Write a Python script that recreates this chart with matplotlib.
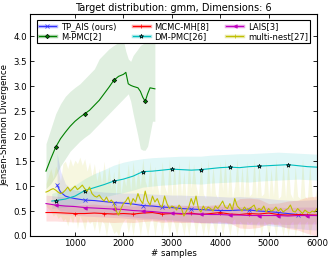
import numpy as np
import matplotlib.pyplot as plt
from matplotlib.lines import Line2D

# --- data ---
tp_x = [630, 700, 800, 900, 1000, 1200, 1400, 1600, 1800, 2000, 2200, 2400, 2600, 2800, 3000,
        3200, 3400, 3600, 3800, 4000, 4200, 4400, 4600, 4800, 5000, 5200, 5400, 5600, 5800, 6000]
tp_mean = [1.02, 0.88, 0.80, 0.77, 0.75, 0.72, 0.71, 0.69, 0.67, 0.66, 0.64, 0.61, 0.60, 0.58, 0.57,
           0.55, 0.54, 0.53, 0.52, 0.51, 0.51, 0.52, 0.52, 0.50, 0.49, 0.47, 0.45, 0.43, 0.42, 0.41]
tp_hi = [1.65, 1.30, 1.05, 0.95, 0.92, 0.90, 0.90, 0.88, 0.87, 0.86, 0.86, 0.85, 0.84, 0.83, 0.82,
         0.82, 0.81, 0.81, 0.80, 0.79, 0.78, 0.79, 0.78, 0.77, 0.75, 0.73, 0.72, 0.71, 0.72, 0.73]
tp_lo = [0.55, 0.50, 0.50, 0.48, 0.48, 0.46, 0.46, 0.44, 0.42, 0.40, 0.38, 0.36, 0.35, 0.33, 0.32,
         0.30, 0.29, 0.27, 0.26, 0.25, 0.24, 0.24, 0.23, 0.22, 0.21, 0.19, 0.17, 0.15, 0.13, 0.12]

mh_x = np.arange(400, 6001, 200)
mh_mean = [0.47, 0.47, 0.46, 0.45, 0.45, 0.46, 0.45, 0.44, 0.45, 0.44, 0.46, 0.47, 0.44, 0.45, 0.44,
           0.46, 0.43, 0.45, 0.47, 0.44, 0.43, 0.45, 0.44, 0.46, 0.43, 0.42, 0.43, 0.42, 0.42]
mh_hi = [0.65, 0.64, 0.63, 0.62, 0.63, 0.64, 0.62, 0.61, 0.62, 0.60, 0.62, 0.63, 0.60, 0.61, 0.60,
         0.62, 0.60, 0.62, 0.64, 0.62, 0.75, 0.76, 0.74, 0.65, 0.66, 0.70, 0.72, 0.78, 0.80]
mh_lo = [0.30, 0.30, 0.29, 0.28, 0.28, 0.29, 0.28, 0.27, 0.28, 0.27, 0.29, 0.30, 0.27, 0.28, 0.27,
         0.28, 0.26, 0.27, 0.28, 0.26, 0.16, 0.15, 0.17, 0.25, 0.22, 0.15, 0.12, 0.05, 0.00]

lais_x = np.arange(400, 6001, 200)
lais_mean = [0.65, 0.62, 0.60, 0.59, 0.57, 0.56, 0.55, 0.54, 0.53, 0.51, 0.50, 0.49, 0.47, 0.46, 0.45,
             0.44, 0.44, 0.43, 0.43, 0.42, 0.42, 0.41, 0.41, 0.41, 0.41, 0.40, 0.41, 0.41, 0.41]
lais_hi = [0.82, 0.80, 0.78, 0.76, 0.74, 0.73, 0.72, 0.71, 0.70, 0.68, 0.67, 0.66, 0.64, 0.63, 0.62,
           0.61, 0.61, 0.60, 0.60, 0.59, 0.59, 0.58, 0.58, 0.58, 0.58, 0.57, 0.58, 0.58, 0.58]
lais_lo = [0.48, 0.45, 0.43, 0.42, 0.40, 0.39, 0.38, 0.37, 0.36, 0.34, 0.33, 0.32, 0.30, 0.29, 0.28,
           0.27, 0.27, 0.26, 0.26, 0.25, 0.25, 0.24, 0.24, 0.24, 0.24, 0.23, 0.24, 0.24, 0.24]

mpmc_x = [400, 500, 600, 700, 800, 900, 1000, 1100, 1200, 1300, 1400, 1500, 1600, 1700, 1800,
          1900, 2000, 2050, 2100, 2150, 2200, 2300, 2350, 2400, 2450, 2500, 2550, 2600, 2650]
mpmc_mean = [1.30, 1.55, 1.78, 1.95, 2.08, 2.20, 2.30, 2.38, 2.45, 2.52, 2.62, 2.72, 2.85, 2.98, 3.12,
             3.20, 3.24, 3.28, 3.05, 3.02, 3.00, 2.97, 2.90, 2.78, 2.70, 2.85, 2.97, 2.96, 2.95]
mpmc_hi = [1.85, 2.15, 2.45, 2.65, 2.80, 2.90, 2.98, 3.05, 3.15, 3.25, 3.35, 3.55, 3.65, 3.75, 3.82,
           3.88, 3.92, 3.70, 3.55, 3.50, 3.62, 3.75, 3.82, 3.85, 3.88, 3.92, 3.98, 4.05, 4.08]
mpmc_lo = [0.95, 1.05, 1.20, 1.40, 1.55, 1.70, 1.80, 1.90, 1.98, 2.05, 2.15, 2.25, 2.35, 2.45, 2.55,
           2.65, 2.75, 2.80, 2.85, 2.70, 2.45, 2.00, 1.75, 1.72, 1.72, 1.80, 2.05, 2.30, 2.30]

dm_x = [520] + list(range(600, 6001, 200))
dm_mean = [0.70, 0.71, 0.74, 0.80, 0.91, 0.97, 1.03, 1.10, 1.14, 1.20, 1.29, 1.30, 1.32, 1.34, 1.33,
           1.32, 1.33, 1.35, 1.37, 1.38, 1.37, 1.39, 1.40, 1.41, 1.42, 1.43, 1.41, 1.39, 1.38]
dm_hi = [0.85, 0.88, 0.93, 1.02, 1.15, 1.25, 1.33, 1.42, 1.48, 1.52, 1.55, 1.57, 1.58, 1.59, 1.60,
         1.60, 1.60, 1.62, 1.63, 1.64, 1.65, 1.65, 1.66, 1.67, 1.68, 1.67, 1.66, 1.65, 1.64]
dm_lo = [0.55, 0.56, 0.58, 0.62, 0.68, 0.73, 0.78, 0.83, 0.87, 0.92, 0.98, 1.00, 1.02, 1.03, 1.05,
         1.05, 1.04, 1.06, 1.07, 1.08, 1.09, 1.08, 1.10, 1.11, 1.12, 1.13, 1.14, 1.13, 1.12]

mn_x = np.arange(400, 6001, 50)
mn_mean = [0.88, 0.90, 0.93, 0.95, 0.92, 0.88, 0.85, 0.87,
           0.92, 0.98, 0.90, 0.95, 1.00, 0.93, 0.97, 1.02, 0.95, 0.90, 0.98,
           0.85, 0.80, 0.78, 0.82, 0.75, 0.70, 0.78, 0.68, 0.72, 0.66,
           0.50, 0.42, 0.55, 0.65,
           0.70, 0.78, 0.62, 0.75, 0.68, 0.85, 0.72, 0.65, 0.90, 0.70, 0.62, 0.80, 0.68, 0.75,
           0.62, 0.58, 0.80, 0.65, 0.55, 0.60, 0.58, 0.52, 0.62, 0.55, 0.40, 0.50,
           0.58, 0.75, 0.62, 0.80, 0.55, 0.48, 0.60, 0.52, 0.58, 0.55, 0.50, 0.60, 0.55,
           0.62, 0.70, 0.58, 0.55, 0.65, 0.52, 0.75, 0.60, 0.55, 0.50, 0.58, 0.52, 0.55,
           0.58, 0.62, 0.50, 0.55, 0.52, 0.60, 0.48, 0.55, 0.50, 0.52, 0.58, 0.50, 0.55, 0.48,
           0.52, 0.55, 0.62, 0.50, 0.48, 0.55, 0.50, 0.45, 0.52, 0.48, 0.46, 0.50, 0.48, 0.55]
mn_hi = [1.05, 1.20, 1.35, 1.15, 1.40, 1.30, 1.10, 1.45,
         1.50, 1.35, 1.55, 1.40, 1.52, 1.45, 1.58, 1.42, 1.55, 1.30, 1.48,
         1.20, 1.45, 1.10, 1.35, 1.05, 1.50, 1.00, 1.40, 0.95, 1.30,
         0.80, 1.55, 0.85, 1.20,
         1.00, 1.45, 0.90, 1.50, 0.95, 1.35, 1.00, 1.55, 1.10, 0.95, 1.50, 0.90, 1.40, 1.00,
         0.80, 1.50, 1.00, 0.85, 1.55, 0.80, 1.45, 0.75, 1.50, 0.80, 1.30, 0.70,
         1.55, 0.95, 1.45, 1.00, 0.80, 1.50, 0.85, 0.75, 1.55, 0.80, 1.40, 0.85, 0.75,
         1.50, 0.90, 1.55, 0.80, 1.45, 0.75, 1.00, 1.55, 0.80, 1.40, 0.75, 1.50, 0.80,
         0.85, 1.55, 0.75, 1.45, 0.80, 0.85, 1.50, 0.75, 1.35, 0.80, 1.55, 0.75, 0.80, 1.45,
         0.75, 1.50, 0.85, 0.75, 1.40, 0.80, 0.75, 1.55, 0.80, 0.75, 1.45, 0.80, 0.75, 1.00]
mn_lo = [0.60, 0.55, 0.50, 0.40, 0.45, 0.35, 0.40, 0.30,
         0.35, 0.20, 0.40, 0.25, 0.45, 0.15, 0.40, 0.30, 0.10, 0.35, 0.25,
         0.30, 0.10, 0.35, 0.05, 0.30, 0.25, 0.00, 0.30, 0.20, 0.05,
         0.10, 0.00, 0.20, 0.30,
         0.35, 0.05, 0.30, 0.00, 0.35, 0.30, 0.00, 0.35, 0.25, 0.00, 0.30, 0.35, 0.00, 0.30,
         0.30, 0.00, 0.35, 0.30, 0.00, 0.35, 0.25, 0.00, 0.30, 0.25, 0.00, 0.30,
         0.00, 0.35, 0.30, 0.00, 0.30, 0.25, 0.00, 0.30, 0.00, 0.30, 0.25, 0.00, 0.30,
         0.30, 0.00, 0.30, 0.25, 0.00, 0.30, 0.35, 0.00, 0.30, 0.25, 0.00, 0.30, 0.25,
         0.30, 0.00, 0.25, 0.30, 0.00, 0.30, 0.25, 0.00, 0.30, 0.25, 0.00, 0.30, 0.25, 0.00,
         0.30, 0.00, 0.25, 0.30, 0.00, 0.25, 0.30, 0.00, 0.25, 0.30, 0.00, 0.25, 0.30, 0.00]

y_ticks = [0.0, 0.5, 1.0, 1.5, 2.0, 2.5, 3.0, 3.5, 4.0]
x_ticks = [1000, 2000, 3000, 4000, 5000, 6000]

plt.rcParams['font.size'] = 6
fig = plt.figure(figsize=(3.32, 2.63), dpi=100)
ax = fig.add_axes([0.0904, 0.1027, 0.8645, 0.8441])


def marks(xs, start, step):
    # indices of the points nearest to the marker positions
    xs = np.asarray(xs)
    pos = np.arange(start, xs[-1] + 1, step)
    return sorted(set(int(np.abs(xs - p).argmin()) for p in pos))


# (label, x, mean, hi, lo, color, marker, marker size, marker start, marker step)
series = [
    ('TP_AIS (ours)', tp_x, tp_mean, tp_hi, tp_lo, '#3333ff', 'x', 2.5, 630, 560),
    ('M-PMC[2]', mpmc_x, mpmc_mean, mpmc_hi, mpmc_lo, 'g', 'D', 2.2, 650, 600),
    ('MCMC-MH[8]', mh_x, mh_mean, mh_hi, mh_lo, 'r', '+', 3, 1000, 600),
    ('DM-PMC[26]', dm_x, dm_mean, dm_hi, dm_lo, 'c', '*', 3.2, 650, 600),
    ('LAIS[3]', lais_x, lais_mean, lais_hi, lais_lo, 'm', '<', 2.5, 650, 580),
    ('multi-nest[27]', mn_x, mn_mean, mn_hi, mn_lo, 'y', None, 2.5, 0, 1),
]

handles = []
for lab, xs, m, hi, lo, col, mk, ms, s0, st in series:
    ax.fill_between(xs, lo, hi, color=col, alpha=0.12, lw=0)
    kw = dict(color=col, lw=0.8)
    if mk is not None:
        kw.update(marker=mk, markevery=marks(xs, s0, st), ms=ms,
                  mec='k' if mk in ('D', '*') else col, mew=0.5)
    ax.plot(xs, m, **kw)
    band = Line2D([], [], color=col, lw=2.5, alpha=0.35)
    line = Line2D([], [], color=col, lw=0.8, marker=mk if mk else '+', ms=ms,
                  mec='k' if mk in ('D', '*') else col, mew=0.5)
    handles.append((band, line))

labels = [s[0] for s in series]
leg = ax.legend(handles, labels, ncol=3, loc='upper left', mode='expand',
                bbox_to_anchor=(0.01, 0.0, 0.98, 0.992), fontsize=6,
                fancybox=False, edgecolor='k', framealpha=1, handlelength=2.0,
                borderpad=0.25, labelspacing=0.15, columnspacing=1.0, handletextpad=0.6)
leg.get_frame().set_linewidth(0.8)

ax.set_xlim(70, 6000)
ax.set_ylim(0, 4.45)
ax.set_xticks(x_ticks)
ax.set_yticks(y_ticks)
ax.set_yticklabels(['%.1f' % v for v in y_ticks])
ax.tick_params(direction='in', top=True, right=True, length=3, width=0.6, labelsize=6.2, pad=2)
for sp in ax.spines.values():
    sp.set_linewidth(0.8)
ax.set_xlabel('# samples', fontsize=6.2, labelpad=1)
ax.set_ylabel('Jensen-Shannon Divergence', fontsize=6.2, labelpad=3)
ax.set_title('Target distribution: gmm, Dimensions: 6', fontsize=7, pad=2)

fig.savefig('out.png', dpi=100)
